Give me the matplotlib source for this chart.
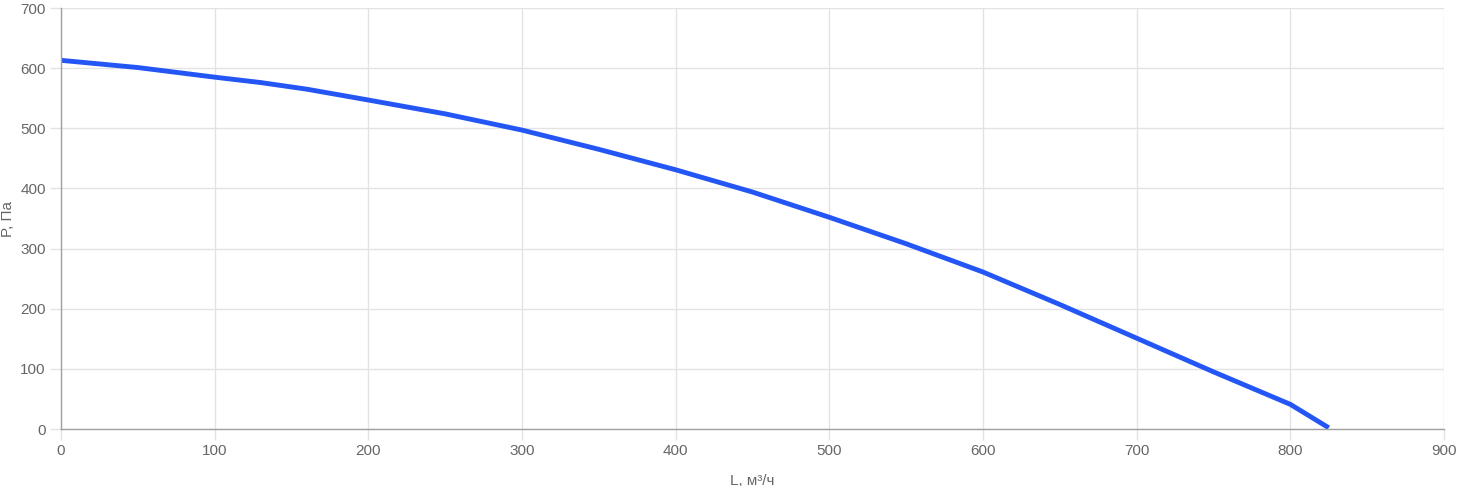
import matplotlib
matplotlib.use("Agg")
import matplotlib.pyplot as plt

plt.rcParams['font.family'] = ['Liberation Sans', 'DejaVu Sans']

# flow rate, m3/h
flow = [0, 50, 100, 130, 160, 200, 250, 300, 350, 400, 450, 500, 550, 600,
        650, 700, 750, 800, 825]
# pressure, Pa
pressure = [613, 601, 585, 576, 565, 547, 524, 497, 465, 431, 394, 352, 308,
            261, 207, 151, 95, 41, 2]

fig = plt.figure(figsize=(14.6, 4.86), dpi=100)
ax = fig.add_axes([61 / 1460, 57 / 486, 1383 / 1460, 421 / 486])

ax.plot(flow, pressure, color='#2456f5', linewidth=3.5, solid_capstyle='butt')

ax.set_xlim(0, 900)
ax.set_ylim(0, 700)
ax.set_xticks(range(0, 901, 100))
ax.set_yticks(range(0, 701, 100))
ax.grid(True, color='#e3e3e3', linewidth=1)
ax.set_axisbelow(True)

for side in ('top', 'right'):
    ax.spines[side].set_visible(False)
for side in ('left', 'bottom'):
    ax.spines[side].set_color('#a0a0a0')
    ax.spines[side].set_linewidth(1)

ax.tick_params(colors='#e3e3e3', labelcolor='#666666', labelsize=11,
               length=8, width=1, pad=3)

ax.set_xlabel('L, м³/ч', color='#666666', fontsize=11, labelpad=11)
ax.set_ylabel('P, Па', color='#666666', fontsize=11)
ax.yaxis.set_label_coords(-0.033, 0.5)

fig.savefig('out.png', dpi=100)
